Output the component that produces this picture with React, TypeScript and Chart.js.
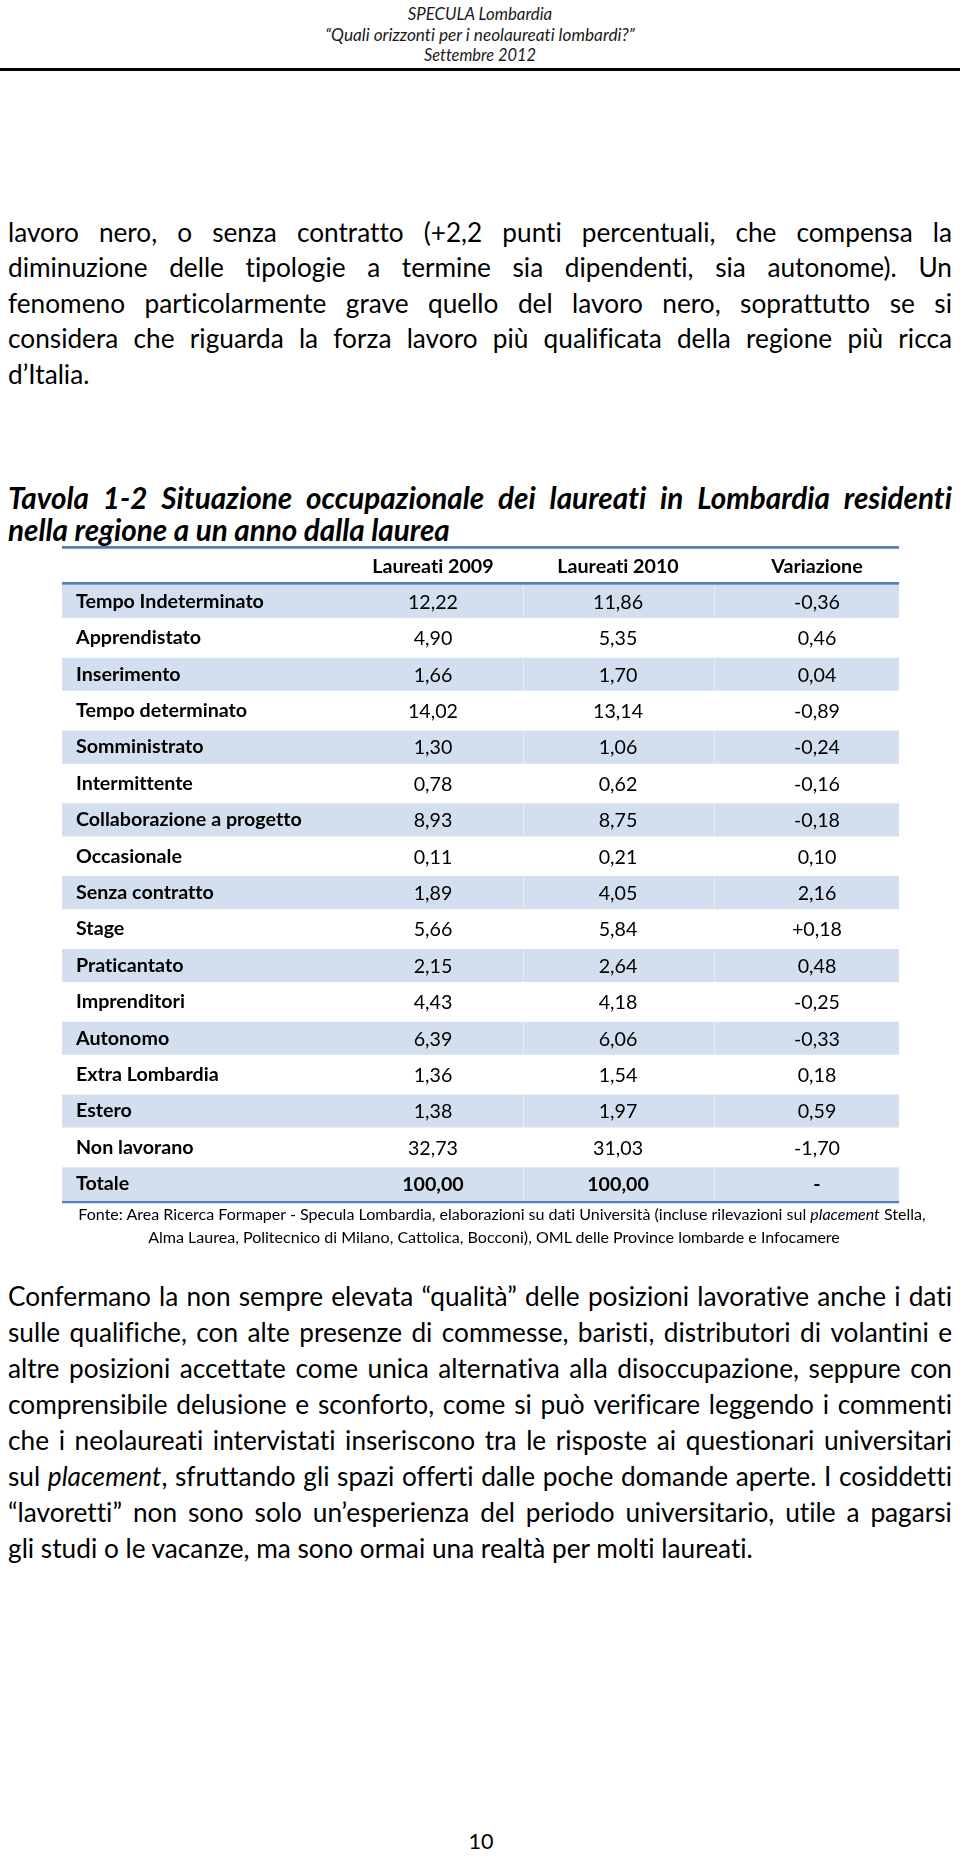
import React, { useEffect, useMemo, useRef } from 'react';
import { Chart, registerables } from 'chart.js';

Chart.register(...registerables);

const FONT_FAMILY = 'Lato, "Open Sans", "DejaVu Sans", sans-serif';

// ---------------- table data ----------------
const ROW_LABELS = [
  'Tempo Indeterminato',
  'Apprendistato',
  'Inserimento',
  'Tempo determinato',
  'Somministrato',
  'Intermittente',
  'Collaborazione a progetto',
  'Occasionale',
  'Senza contratto',
  'Stage',
  'Praticantato',
  'Imprenditori',
  'Autonomo',
  'Extra Lombardia',
  'Estero',
  'Non lavorano',
  'Totale',
];
const COLUMN_HEADERS = ['Laureati 2009', 'Laureati 2010', 'Variazione'];
const LAUREATI_2009 = [12.22, 4.9, 1.66, 14.02, 1.3, 0.78, 8.93, 0.11, 1.89, 5.66, 2.15, 4.43, 6.39, 1.36, 1.38, 32.73, 100.0];
const LAUREATI_2010 = [11.86, 5.35, 1.7, 13.14, 1.06, 0.62, 8.75, 0.21, 4.05, 5.84, 2.64, 4.18, 6.06, 1.54, 1.97, 31.03, 100.0];
const VARIAZIONE = ['-0,36', '0,46', '0,04', '-0,89', '-0,24', '-0,16', '-0,18', '0,10', '2,16', '+0,18', '0,48', '-0,25', '-0,33', '0,18', '0,59', '-1,70', '-'];
const TOTAL_LABEL = 'Totale';

// ---------------- page texts ----------------
const HEADER_LINES = ['SPECULA Lombardia', '“Quali orizzonti per i neolaureati lombardi?”', 'Settembre 2012'];
const PARAGRAPH_1 = [
  'lavoro nero, o senza contratto (+2,2 punti percentuali, che compensa la',
  'diminuzione delle tipologie a termine sia dipendenti, sia autonome). Un',
  'fenomeno particolarmente grave quello del lavoro nero, soprattutto se si',
  'considera che riguarda la forza lavoro più qualificata della regione più ricca',
  'd’Italia.',
];
const TITLE_LINES = [
  'Tavola 1-2 Situazione occupazionale dei laureati in Lombardia residenti',
  'nella regione a un anno dalla laurea',
];
const SOURCE_LINES = [
  'Fonte: Area Ricerca Formaper - Specula Lombardia, elaborazioni su dati Università (incluse rilevazioni sul *placement* Stella,',
  'Alma Laurea, Politecnico di Milano, Cattolica, Bocconi), OML delle Province lombarde e Infocamere',
];
const PARAGRAPH_2 = [
  'Confermano la non sempre elevata “qualità” delle posizioni lavorative anche i dati',
  'sulle qualifiche, con alte presenze di commesse, baristi, distributori di volantini e',
  'altre posizioni accettate come unica alternativa alla disoccupazione, seppure con',
  'comprensibile delusione e sconforto, come si può verificare leggendo i commenti',
  'che i neolaureati intervistati inseriscono tra le risposte ai questionari universitari',
  'sul *placement*, sfruttando gli spazi offerti dalle poche domande aperte. I cosiddetti',
  '“lavoretti” non sono solo un’esperienza del periodo universitario, utile a pagarsi',
  'gli studi o le vacanze, ma sono ormai una realtà per molti laureati.',
];
const PAGE_NUMBER = '10';

// ---------------- layout constants ----------------
const TEXT_LEFT = 8;
const TEXT_WIDTH = 944;
const ASCENT_RATIO = 0.887; // baseline offset inside a line box of height = font size (Lato)
const COLUMN_CENTERS = [0.4432, 0.6643, 0.902]; // fractions of table width
const CELL_SEPARATORS = [0.551, 0.779];
const HEADER_ROW_HEIGHT = 36;
const SHADE = '#D3DFEE';
const RULE_BLUE = '#4F81BD';

let measureCtx: CanvasRenderingContext2D | null = null;
function measure(text: string, font: string): number {
  if (!measureCtx) measureCtx = document.createElement('canvas').getContext('2d');
  measureCtx!.font = font;
  (measureCtx as any).textRendering = 'optimizeSpeed';
  return measureCtx!.measureText(text).width;
}
const plain = (t: string) => t.replace(/\*/g, '');
function fitSize(text: string, style: string, weight: string, target: number): number {
  return (100 * target) / measure(plain(text), `${style} ${weight} 100px ${FONT_FAMILY}`);
}

function rich(text: string, key: string) {
  return text.split('*').map((seg, i) =>
    i % 2 === 1 ? (
      <span key={key + i} style={{ fontStyle: 'italic' }}>
        {seg}
      </span>
    ) : (
      <React.Fragment key={key + i}>{seg}</React.Fragment>
    )
  );
}

type LineProps = {
  text: string;
  baseline: number;
  size: number;
  left?: number;
  width?: number;
  align?: 'left' | 'center' | 'justify';
  weight?: string;
  fstyle?: string;
  color?: string;
};

function TextLine({ text, baseline, size, left = TEXT_LEFT, width = TEXT_WIDTH, align = 'left', weight = 'normal', fstyle = 'normal', color = '#000' }: LineProps) {
  const base: React.CSSProperties = {
    position: 'absolute',
    left,
    top: baseline - ASCENT_RATIO * size,
    width,
    height: size,
    lineHeight: `${size}px`,
    fontSize: size,
    fontFamily: FONT_FAMILY,
    fontWeight: weight as any,
    fontStyle: fstyle,
    fontVariantLigatures: 'none',
    color,
    whiteSpace: 'nowrap',
  };
  if (align === 'justify') {
    return (
      <div style={{ ...base, display: 'flex', justifyContent: 'space-between' }}>
        {text.split(' ').map((w, i) => (
          <span key={i}>{rich(w, 'w' + i)}</span>
        ))}
      </div>
    );
  }
  return <div style={{ ...base, textAlign: align }}>{rich(text, 't')}</div>;
}

const fmt = (v: number) => v.toFixed(2).replace('.', ',');

function TableChart({ size }: { size: number }) {
  const ref = useRef<HTMLCanvasElement>(null);
  useEffect(() => {
    const bands = ROW_LABELS.map((_, i) => (i % 2 === 0 ? [0, 1] : null));
    const cellPlugin = {
      id: 'tableCells',
      beforeDraw(chart: any) {
        chart.ctx.textRendering = 'optimizeSpeed';
      },
      afterDatasetsDraw(chart: any) {
        const { ctx, scales } = chart;
        const x = scales.x;
        const y = scales.y;
        const meta = chart.getDatasetMeta(0);
        ctx.save();
        // faint cell separators inside shaded rows
        ctx.strokeStyle = 'rgba(255,255,255,0.45)';
        ctx.lineWidth = 1;
        meta.data.forEach((el: any, i: number) => {
          if (bands[i] === null) return;
          const { y: cy, height } = el.getProps(['y', 'height'], true);
          CELL_SEPARATORS.forEach((s) => {
            const px = Math.round(x.getPixelForValue(s)) + 0.5;
            ctx.beginPath();
            ctx.moveTo(px, cy - height / 2);
            ctx.lineTo(px, cy + height / 2);
            ctx.stroke();
          });
        });
        // cell values
        ctx.fillStyle = '#000';
        ctx.textAlign = 'center';
        ctx.textBaseline = 'middle';
        ROW_LABELS.forEach((label, i) => {
          const py = y.getPixelForValue(i);
          ctx.font = `${label === TOTAL_LABEL ? 'bold ' : ''}${size}px ${FONT_FAMILY}`;
          const cells = [fmt(LAUREATI_2009[i]), fmt(LAUREATI_2010[i]), VARIAZIONE[i]];
          cells.forEach((t, j) => ctx.fillText(t, x.getPixelForValue(COLUMN_CENTERS[j]), py + 1));
        });
        ctx.restore();
      },
      afterDraw(chart: any) {
        const { ctx, chartArea, scales } = chart;
        ctx.save();
        ctx.strokeStyle = RULE_BLUE;
        ctx.lineWidth = 2.7;
        [scales.x.top, chartArea.top, chartArea.bottom].forEach((py: number) => {
          ctx.beginPath();
          ctx.moveTo(chartArea.left, py);
          ctx.lineTo(chartArea.right, py);
          ctx.stroke();
        });
        ctx.restore();
      },
    };

    const chart = new Chart(ref.current as HTMLCanvasElement, {
      type: 'bar',
      data: {
        labels: ROW_LABELS,
        datasets: [
          {
            data: bands as any,
            backgroundColor: SHADE,
            borderWidth: 0,
            barPercentage: 0.91,
            categoryPercentage: 1,
          },
        ],
      },
      options: {
        indexAxis: 'y',
        animation: false,
        responsive: false,
        devicePixelRatio: 1,
        layout: { padding: { left: 2, right: 3, top: 7.3, bottom: 4 } },
        plugins: { legend: { display: false }, tooltip: { enabled: false } },
        events: [],
        scales: {
          x: {
            type: 'linear',
            position: 'top',
            min: 0,
            max: 1,
            grid: { display: false, drawTicks: false },
            border: { display: false },
            afterBuildTicks: (s: any) => {
              s.ticks = COLUMN_CENTERS.map((value) => ({ value }));
            },
            afterFit: (s: any) => {
              s.height = HEADER_ROW_HEIGHT;
              s.paddingLeft = 0;
              s.paddingRight = 0;
            },
            ticks: {
              autoSkip: false,
              maxRotation: 0,
              padding: 5,
              color: '#000',
              font: { family: FONT_FAMILY, weight: 'bold', size },
              callback: (_v: any, i: number) => COLUMN_HEADERS[i] ?? '',
            },
          },
          y: {
            type: 'category',
            grid: { display: false, drawTicks: false },
            border: { display: false },
            afterFit: (s: any) => {
              s.width = 0;
              s.paddingTop = 0;
              s.paddingBottom = 0;
            },
            ticks: {
              mirror: true,
              padding: 14,
              z: 1,
              autoSkip: false,
              color: '#000',
              font: { family: FONT_FAMILY, weight: 'bold', size },
            },
          },
        },
      },
      plugins: [cellPlugin],
    } as any);
    return () => chart.destroy();
  }, [size]);
  return <canvas ref={ref} width={842} height={666} style={{ position: 'absolute', left: 60, top: 540 }} />;
}

export default function App() {
  const sizes = useMemo(() => {
    const header = [
      fitSize(HEADER_LINES[0], 'italic', 'normal', 145),
      fitSize(HEADER_LINES[1], 'italic', 'normal', 310),
      fitSize(HEADER_LINES[2], 'italic', 'normal', 112),
    ];
    const bodyLast = fitSize(PARAGRAPH_2[PARAGRAPH_2.length - 1], 'normal', 'normal', 756);
    const bodyCaps = [...PARAGRAPH_1.slice(0, 4), ...PARAGRAPH_2.slice(0, 7)].map((l) => fitSize(l, 'normal', 'normal', 940));
    const body = Math.min(bodyLast, ...bodyCaps);
    const title = fitSize(TITLE_LINES[1], 'italic', 'bold', 442);
    const table = fitSize(ROW_LABELS[0], 'normal', 'bold', 188);
    const source = fitSize(SOURCE_LINES[0], 'normal', 'normal', 852);
    const page = fitSize(PAGE_NUMBER, 'normal', 'normal', 25);
    return { header, body, title, table, source, page };
  }, []);

  const headerBaselines = [21, 41.5, 61.5];
  const p1Baselines = PARAGRAPH_1.map((_, i) => 242 + 35.5 * i);
  const titleBaselines = [509, 541.5];
  const sourceBaselines = [1220, 1243];
  const sourceCenters = [502, 494];
  const p2Baselines = PARAGRAPH_2.map((_, i) => 1306 + 36 * i);

  return (
    <div style={{ position: 'absolute', left: 0, top: 0, width: 960, height: 1856, overflow: 'hidden', background: '#fff' }}>
      {HEADER_LINES.map((t, i) => (
        <TextLine key={'h' + i} text={t} baseline={headerBaselines[i]} size={sizes.header[i]} left={0} width={960} align="center" fstyle="italic" color="#1a1a1a" />
      ))}
      <div style={{ position: 'absolute', left: 0, top: 68, width: 960, height: 3, background: '#000' }} />

      {PARAGRAPH_1.map((t, i) => (
        <TextLine key={'p1' + i} text={t} baseline={p1Baselines[i]} size={sizes.body} align={i < PARAGRAPH_1.length - 1 ? 'justify' : 'left'} />
      ))}

      {TITLE_LINES.map((t, i) => (
        <TextLine key={'t' + i} text={t} baseline={titleBaselines[i]} size={sizes.title} align={i === 0 ? 'justify' : 'left'} weight="bold" fstyle="italic" />
      ))}

      <TableChart size={sizes.table} />

      {SOURCE_LINES.map((t, i) => (
        <TextLine key={'s' + i} text={t} baseline={sourceBaselines[i]} size={sizes.source} left={sourceCenters[i] - 480} width={960} align="center" />
      ))}

      {PARAGRAPH_2.map((t, i) => (
        <TextLine key={'p2' + i} text={t} baseline={p2Baselines[i]} size={sizes.body} align={i < PARAGRAPH_2.length - 1 ? 'justify' : 'left'} />
      ))}

      <TextLine text={PAGE_NUMBER} baseline={1850} size={sizes.page} left={0} width={962} align="center" />
    </div>
  );
}
